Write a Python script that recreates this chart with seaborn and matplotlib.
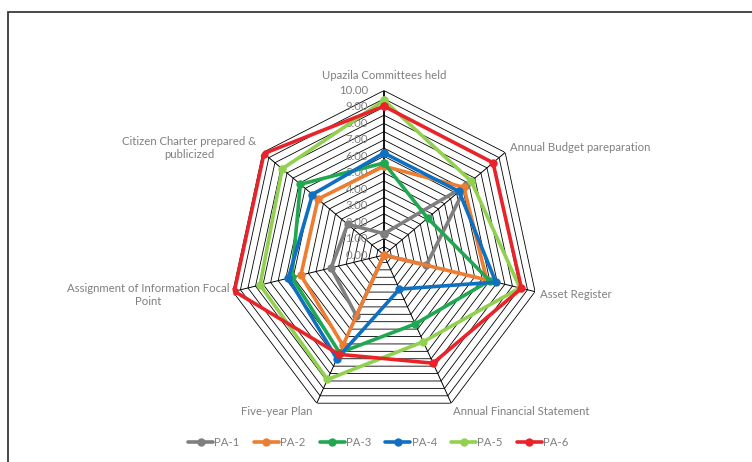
import numpy as np
import pandas as pd
import matplotlib
matplotlib.use("Agg")
import matplotlib.pyplot as plt
from matplotlib.lines import Line2D
from matplotlib.patches import Rectangle
import seaborn as sns

categories = ["Upazila Committees held", "Annual Budget pareparation", "Asset Register",
              "Annual Financial Statement", "Five-year Plan",
              "Assignment of Information Focal\nPoint", "Citizen Charter prepared &\npublicized"]
series = ["PA-1", "PA-2", "PA-3", "PA-4", "PA-5", "PA-6"]
pa1 = [1.3, 6.8, 2.8, 0.0, 4.1, 3.5, 3.0]
pa2 = [5.4, 6.6, 6.8, 0.0, 6.1, 5.5, 5.45]
pa3 = [5.6, 3.6, 7.0, 4.65, 6.6, 6.1, 6.9]
pa4 = [6.2, 6.2, 7.4, 2.3, 7.0, 6.33, 5.9]
pa5 = [9.4, 7.2, 9.0, 5.85, 8.4, 8.2, 8.4]
pa6 = [9.05, 9.0, 9.1, 7.3, 6.7, 9.9, 9.9]
values = [pa1, pa2, pa3, pa4, pa5, pa6]
colors = ["#7f7f7f", "#ED7D31", "#1FA84F", "#0F6FC0", "#92D050", "#E8242A"]
tick_values = np.arange(0, 10.5, 1.0)
tick_labels = [f"{v:.2f}" for v in tick_values]

sns.set_theme(style="white")
plt.rcParams["font.family"] = ["Lato", "DejaVu Sans"]
txt_color = "#808080"

fig = plt.figure(figsize=(7.52, 4.62), dpi=100)
ax = fig.add_axes([0.3045, 0.092, 0.4122, 0.712], projection="polar")
ax.set_aspect("auto")
ax.set_theta_zero_location("N")
ax.set_theta_direction(-1)
ax.set_ylim(0, 10)
ax.set_xticks([])
ax.set_yticks([])
ax.grid(False)
ax.spines["polar"].set_visible(False)
ax.patch.set_alpha(0)

n = len(categories)
theta = np.arange(n) * 2 * np.pi / n
theta_c = np.append(theta, theta[0] + 2 * np.pi)

# heptagonal grid
for r in np.arange(0.5, 10.01, 0.5):
    ax.plot(theta_c, [r] * (n + 1), color="black", lw=0.6, zorder=1)
for i, t in enumerate(theta):
    ax.plot([t, t], [0, 10], color="black", lw=1.3 if i == 0 else 0.7, zorder=1)

# series
for name, vals, col in zip(series, values, colors):
    df = pd.DataFrame({"theta": theta_c, "r": vals + [vals[0]]})
    sns.lineplot(data=df, x="theta", y="r", sort=False, estimator=None, color=col,
                 lw=2.6, marker="o", markersize=6, markeredgewidth=0, ax=ax, zorder=3)
ax.set_xlabel("")
ax.set_ylabel("")
ax.set_xticks([])
ax.set_yticks([])
ax.set_ylim(0, 10)

# radial tick labels
for v, lab in zip(tick_values, tick_labels):
    ax.annotate(lab, xy=(0, v), xytext=(-11.5, 0), textcoords="offset points",
                ha="right", va="center", fontsize=8.2, color=txt_color, zorder=2)

# category labels
offsets = [(0, 11, "center", "center"), (3.6, 3.6, "left", "center"),
           (3.6, -2.2, "left", "center"), (1.4, -5.8, "left", "center"),
           (-2.9, -5.8, "right", "center"), (-2.4, -2.2, "right", "center"),
           (-4.6, 3.2, "right", "center")]
for t, lab, (dx, dy, ha, va) in zip(theta, categories, offsets):
    ax.annotate(lab, xy=(t, 10), xytext=(dx, dy), textcoords="offset points",
                ha=ha, va=va, multialignment="center", fontsize=8.2,
                color=txt_color, annotation_clip=False)

handles = [Line2D([0], [0], color=c, lw=2.6, marker="o", markersize=6, markeredgewidth=0)
           for c in colors]
fig.legend(handles, series, loc="center", bbox_to_anchor=(0.503, 20 / 462), ncol=6,
           frameon=False, handlelength=2.2, columnspacing=1.25, handletextpad=0.1,
           fontsize=8.2, labelcolor=txt_color)

fig.add_artist(Rectangle((7.5 / 752, -0.1), 1.1, 1 - 12 / 462 + 0.1,
                         transform=fig.transFigure, fill=False, ec="#3a3a3a", lw=1.3))

fig.savefig("out.png", dpi=100, facecolor="white")
